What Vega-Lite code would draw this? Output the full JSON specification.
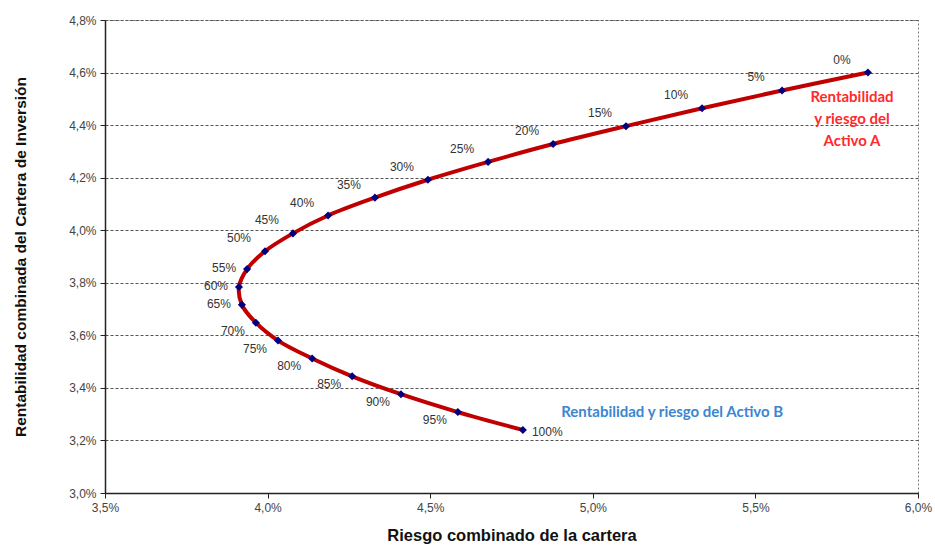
{
  "$schema": "https://vega.github.io/schema/vega-lite/v6.json",
  "width": 813,
  "height": 473,
  "autosize": {"type": "none"},
  "padding": {"left": 105, "top": 20, "right": 17, "bottom": 57},
  "background": "white",
  "config": {
    "view": {"stroke": "#777", "strokeDash": [2, 2], "strokeWidth": 1},
    "font": "Liberation Sans"
  },
  "datasets": {
    "pts": [
      {"w": 0, "lbl": "0%", "risk": 5.846, "ret": 4.600},
      {"w": 5, "lbl": "5%", "risk": 5.582, "ret": 4.532},
      {"w": 10, "lbl": "10%", "risk": 5.336, "ret": 4.464},
      {"w": 15, "lbl": "15%", "risk": 5.102, "ret": 4.396},
      {"w": 20, "lbl": "20%", "risk": 4.878, "ret": 4.328},
      {"w": 25, "lbl": "25%", "risk": 4.678, "ret": 4.260},
      {"w": 30, "lbl": "30%", "risk": 4.493, "ret": 4.192},
      {"w": 35, "lbl": "35%", "risk": 4.330, "ret": 4.124},
      {"w": 40, "lbl": "40%", "risk": 4.186, "ret": 4.056},
      {"w": 45, "lbl": "45%", "risk": 4.078, "ret": 3.988},
      {"w": 50, "lbl": "50%", "risk": 3.992, "ret": 3.920},
      {"w": 55, "lbl": "55%", "risk": 3.937, "ret": 3.852},
      {"w": 60, "lbl": "60%", "risk": 3.912, "ret": 3.784},
      {"w": 65, "lbl": "65%", "risk": 3.921, "ret": 3.716},
      {"w": 70, "lbl": "70%", "risk": 3.964, "ret": 3.648},
      {"w": 75, "lbl": "75%", "risk": 4.032, "ret": 3.580},
      {"w": 80, "lbl": "80%", "risk": 4.137, "ret": 3.512},
      {"w": 85, "lbl": "85%", "risk": 4.260, "ret": 3.444},
      {"w": 90, "lbl": "90%", "risk": 4.410, "ret": 3.376},
      {"w": 95, "lbl": "95%", "risk": 4.585, "ret": 3.308},
      {"w": 100, "lbl": "100%", "risk": 4.785, "ret": 3.240}
    ],
    "notes": [
      {"name": "A", "txt": ["Rentabilidad", "y riesgo del", "Activo A"], "risk": 5.797, "ret": 4.507},
      {"name": "B", "txt": ["Rentabilidad y riesgo del Activo B"], "risk": 5.244, "ret": 3.310}
    ]
  },
  "encoding": {
    "x": {
      "field": "risk", "type": "quantitative",
      "scale": {"domain": [3.5, 6.0], "nice": false, "zero": false},
      "axis": {
        "values": [3.5, 4.0, 4.5, 5.0, 5.5, 6.0],
        "labelExpr": "replace(format(datum.value, '.1f'), '.', ',') + '%'",
        "labelFlush": false,
        "grid": false,
        "domainColor": "#222", "domainWidth": 1.5,
        "tickColor": "#222", "tickSize": 5,
        "labelFont": "Liberation Sans", "labelFontSize": 12, "labelColor": "#444",
        "labelPadding": 4,
        "title": "Riesgo combinado de la cartera",
        "titleFont": "Liberation Sans", "titleFontSize": 16.5, "titleFontWeight": "bold",
        "titleColor": "#111", "titlePadding": 14
      }
    },
    "y": {
      "field": "ret", "type": "quantitative",
      "scale": {"domain": [3.0, 4.8], "nice": false, "zero": false},
      "axis": {
        "values": [3.0, 3.2, 3.4, 3.6, 3.8, 4.0, 4.2, 4.4, 4.6, 4.8],
        "labelExpr": "replace(format(datum.value, '.1f'), '.', ',') + '%'",
        "labelFlush": false,
        "grid": true, "gridColor": "#555", "gridDash": [3, 2], "gridWidth": 1,
        "domainColor": "#222", "domainWidth": 1.5,
        "tickColor": "#222", "tickSize": 5,
        "labelFont": "Liberation Sans", "labelFontSize": 12, "labelColor": "#444",
        "labelPadding": 4,
        "title": "Rentabilidad combinada del Cartera de Inversión",
        "titleFont": "Liberation Sans", "titleFontSize": 15.5, "titleFontWeight": "bold",
        "titleColor": "#111", "titlePadding": 40
      }
    }
  },
  "layer": [
    {
      "data": {"name": "pts"},
      "mark": {"type": "line", "color": "#c00000", "strokeWidth": 4, "interpolate": "catmull-rom"},
      "encoding": {"order": {"field": "w", "type": "quantitative"}}
    },
    {
      "data": {"name": "pts"},
      "mark": {"type": "point", "shape": "diamond", "filled": true, "color": "#000080", "size": 65, "opacity": 1}
    },
    {
      "data": {"name": "pts"},
      "transform": [{"filter": "datum.w <= 50"}],
      "mark": {"type": "text", "dx": -26, "dy": -13, "fontSize": 12, "color": "#333", "font": "Liberation Sans"},
      "encoding": {"text": {"field": "lbl"}}
    },
    {
      "data": {"name": "pts"},
      "transform": [{"filter": "datum.w >= 55 && datum.w <= 65"}],
      "mark": {"type": "text", "dx": -23, "dy": -1, "fontSize": 12, "color": "#333", "font": "Liberation Sans"},
      "encoding": {"text": {"field": "lbl"}}
    },
    {
      "data": {"name": "pts"},
      "transform": [{"filter": "datum.w >= 70 && datum.w <= 95"}],
      "mark": {"type": "text", "dx": -23, "dy": 8, "fontSize": 12, "color": "#333", "font": "Liberation Sans"},
      "encoding": {"text": {"field": "lbl"}}
    },
    {
      "data": {"name": "pts"},
      "transform": [{"filter": "datum.w == 100"}],
      "mark": {"type": "text", "align": "left", "dx": 9, "dy": 2, "fontSize": 12, "color": "#333", "font": "Liberation Sans"},
      "encoding": {"text": {"field": "lbl"}}
    },
    {
      "data": {"name": "notes"},
      "transform": [{"filter": "datum.name == 'A'"}],
      "mark": {"type": "text", "align": "center", "baseline": "middle", "fontSize": 15, "fontWeight": "bold", "color": "#ff2a2a", "font": "Lato", "lineHeight": 22},
      "encoding": {"text": {"field": "txt"}}
    },
    {
      "data": {"name": "notes"},
      "transform": [{"filter": "datum.name == 'B'"}],
      "mark": {"type": "text", "align": "center", "baseline": "middle", "fontSize": 15, "fontWeight": "bold", "color": "#3b86d0", "font": "Lato"},
      "encoding": {"text": {"field": "txt"}}
    }
  ]
}
